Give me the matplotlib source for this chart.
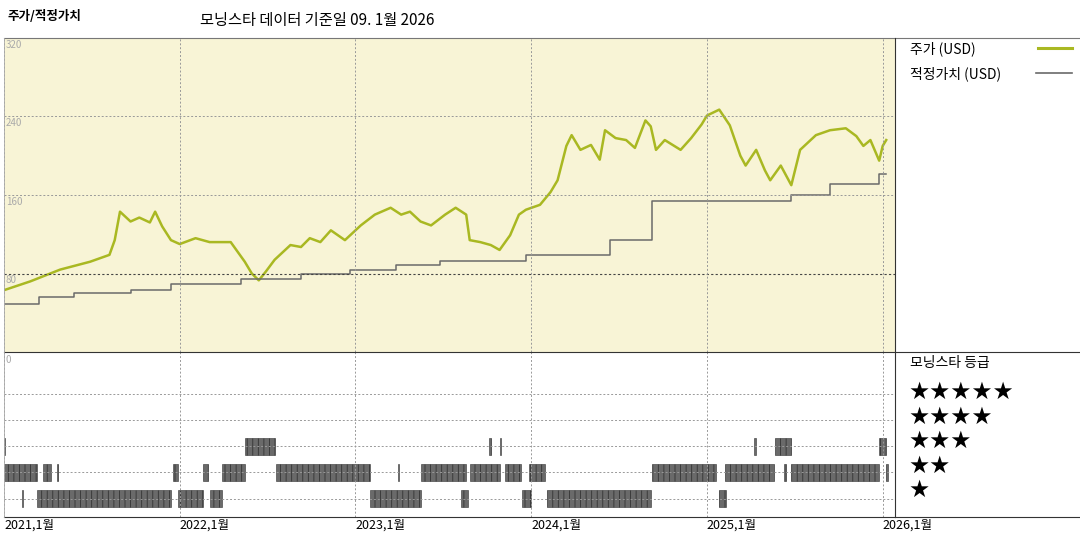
import matplotlib
matplotlib.use("Agg")
import matplotlib.pyplot as plt
from matplotlib.lines import Line2D

plt.rcParams['font.family'] = ['Noto Sans CJK KR', 'DejaVu Sans']

# price (decimal year, USD)
price_t = [2021.00, 2021.15, 2021.32, 2021.49, 2021.60, 2021.63, 2021.66, 2021.72, 2021.77, 2021.83,
           2021.86, 2021.90, 2021.95, 2022.00, 2022.09, 2022.17, 2022.29, 2022.37, 2022.41, 2022.45,
           2022.49, 2022.54, 2022.63, 2022.69, 2022.74, 2022.80, 2022.86, 2022.94, 2023.03, 2023.11,
           2023.20, 2023.26, 2023.31, 2023.37, 2023.43, 2023.51, 2023.57, 2023.63, 2023.65, 2023.71,
           2023.77, 2023.82, 2023.88, 2023.93, 2023.97, 2024.05, 2024.11, 2024.15, 2024.20, 2024.23,
           2024.28, 2024.34, 2024.39, 2024.42, 2024.48, 2024.54, 2024.59, 2024.65, 2024.68, 2024.71,
           2024.76, 2024.85, 2024.91, 2024.97, 2025.00, 2025.07, 2025.13, 2025.19, 2025.22, 2025.28,
           2025.33, 2025.36, 2025.42, 2025.48, 2025.53, 2025.62, 2025.70, 2025.79, 2025.85, 2025.89,
           2025.93, 2025.98, 2026.00, 2026.02]
price_v = [63, 72, 84, 92, 99, 114, 143, 133, 137, 132,
           143, 128, 114, 110, 116, 112, 112, 92, 80, 73,
           82, 94, 109, 107, 116, 112, 124, 114, 129, 140,
           147, 140, 143, 133, 129, 140, 147, 140, 114, 112,
           109, 104, 119, 140, 145, 150, 163, 175, 210, 221,
           206, 211, 196, 226, 218, 216, 208, 236, 230, 206,
           216, 206, 218, 232, 241, 247, 231, 200, 190, 206,
           185, 175, 190, 170, 206, 221, 226, 228, 220, 210,
           216, 195, 210, 216]

# fair value steps (start of step, value)
fair_t = [2021.00, 2021.20, 2021.40, 2021.72, 2021.95, 2022.35, 2022.69, 2022.97, 2023.23, 2023.48,
          2023.97, 2024.45, 2024.69, 2025.48, 2025.70, 2025.98, 2026.02]
fair_v = [49, 56, 60, 63, 69, 74, 79, 84, 89, 93, 99, 114, 154, 160, 171, 181, 181]

# Morningstar rating intervals (start, end, stars)
ratings = [
    (2021.00, 2021.005, 3), (2022.37, 2022.54, 3), (2023.76, 2023.77, 3), (2023.82, 2023.83, 3),
    (2025.27, 2025.28, 3), (2025.39, 2025.48, 3), (2025.98, 2026.02, 3),
    (2021.00, 2021.19, 2), (2021.22, 2021.27, 2), (2021.30, 2021.31, 2), (2021.96, 2021.99, 2),
    (2022.13, 2022.16, 2), (2022.24, 2022.37, 2), (2022.55, 2023.08, 2), (2023.24, 2023.25, 2),
    (2023.37, 2023.63, 2), (2023.65, 2023.82, 2), (2023.85, 2023.94, 2), (2023.99, 2024.08, 2),
    (2024.69, 2025.05, 2), (2025.10, 2025.38, 2), (2025.44, 2025.45, 2), (2025.48, 2025.98, 2),
    (2026.02, 2026.03, 2),
    (2021.10, 2021.11, 1), (2021.19, 2021.95, 1), (2021.99, 2022.13, 1), (2022.17, 2022.24, 1),
    (2023.08, 2023.37, 1), (2023.60, 2023.64, 1), (2023.95, 2024.00, 1), (2024.09, 2024.68, 1),
    (2025.07, 2025.11, 1),
]

years = [2021, 2022, 2023, 2024, 2025, 2026]
x0, x1 = 2021.0, 2026.07

fig = plt.figure(figsize=(10.8, 5.4), dpi=100)
W, H = 1080, 540
ax = fig.add_axes([4 / W, (H - 352) / H, 891 / W, 314 / H])
ax2 = fig.add_axes([4 / W, (H - 517) / H, 891 / W, 165 / H])

ax.set_facecolor('#f8f4d6')
ax.plot(price_t, price_v, color='#a9b822', lw=1.8)
ax.step(fair_t, fair_v, where='post', color='#6a6a6a', lw=1.1)
ax.set_xlim(x0, x1)
ax.set_ylim(0, 320)
for yv in [160, 240]:
    ax.axhline(yv, color='#999999', lw=0.7, ls=(0, (2, 2)))
ax.axhline(80, color='#444444', lw=0.8, ls=(0, (2, 2)))
for yr in years:
    ax.axvline(yr, color='#999999', lw=0.7, ls=(0, (2, 2)))
ax.text(x0 + 0.01, 318, '320', color='#aaaaaa', fontsize=7, va='top')
for yv in [240, 160, 80]:
    ax.text(x0 + 0.01, yv - 2, str(yv), color='#aaaaaa', fontsize=7, va='top')
ax.set_xticks([])
ax.set_yticks([])
for s in ax.spines.values():
    s.set_visible(False)

ax2.set_xlim(x0, x1)
ax2.set_ylim(0.3, 6.6)
for r in range(1, 6):
    ax2.axhline(r, color='#999999', lw=0.7, ls=(0, (2, 2)))
for yr in years:
    ax2.axvline(yr, color='#999999', lw=0.7, ls=(0, (2, 2)))
plt.rcParams['hatch.color'] = '#222222'
plt.rcParams['hatch.linewidth'] = 0.6
for a, b, s in ratings:
    ax2.broken_barh([(a, max(b - a, 0.004))], (s - 0.32, 0.64),
                    facecolor='#6a6a6a', edgecolor='#333333', lw=0.4, hatch='|||')
ax2.text(x0 + 0.01, 6.5, '0', color='#aaaaaa', fontsize=7, va='top')
ax2.set_yticks([])
ax2.set_xticks(years)
ax2.set_xticklabels([f'{y},1월' for y in years], fontsize=9)
ax2.tick_params(axis='x', length=0, pad=1)
for lbl in ax2.get_xticklabels():
    lbl.set_horizontalalignment('left')
for k in ['top', 'right', 'left']:
    ax2.spines[k].set_visible(False)
ax2.spines['bottom'].set_color('#333333')

# frame lines
def fline(xa, ya, xb, yb, c='#333333', lw=0.8):
    fig.add_artist(Line2D([xa / W, xb / W], [1 - ya / H, 1 - yb / H], color=c, lw=lw))

fline(4, 38, W, 38, c='#777777')
fline(895, 38, 895, 517)
fline(4, 352, W, 352)
fline(895, 517, W, 517)
fline(4, 38, 4, 517, c='#aaaaaa', lw=0.6)

fig.text(8 / W, 1 - 17 / H, '주가/적정가치', fontsize=9, fontweight='bold', va='center')
fig.text(200 / W, 1 - 21 / H, '모닝스타 데이터 기준일 09. 1월 2026', fontsize=11, va='center')
fig.text(910 / W, 1 - 49 / H, '주가 (USD)', fontsize=10, va='center')
fline(1038, 48, 1072, 48, c='#a9b822', lw=2.2)
fig.text(910 / W, 1 - 74 / H, '적정가치 (USD)', fontsize=10, va='center')
fline(1036, 73, 1072, 73, c='#6a6a6a', lw=1.2)
fig.text(910 / W, 1 - 363 / H, '모닝스타 등급', fontsize=10, va='center')
for i, n in enumerate([5, 4, 3, 2, 1]):
    fig.text(908 / W, 1 - (392 + i * 24.5) / H, '★' * n, fontsize=17, va='center',
             family=['DejaVu Sans'])

fig.savefig('out.png', dpi=100)
